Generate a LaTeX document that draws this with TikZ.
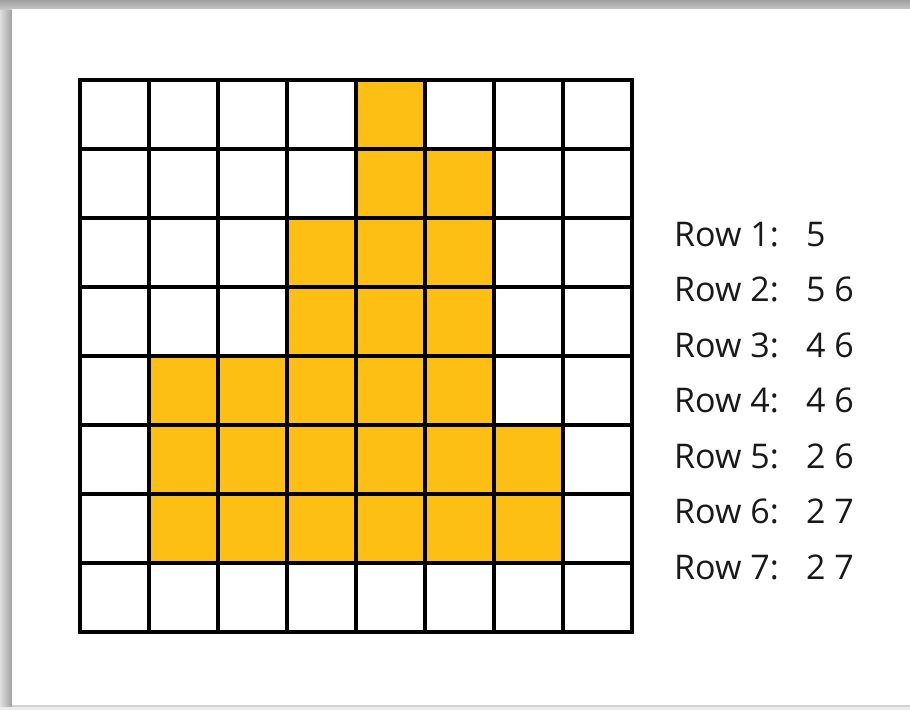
\documentclass[tikz,border=0pt]{standalone}
\usepackage{fontspec}
\setmainfont{Open Sans}
\usepackage{xcolor}
\usepackage{tikz}
\definecolor{pixelgold}{RGB}{253,191,20}
\tikzset{
  pixelcell/.style={fill=pixelgold},
  gridline/.style={draw=black, line width=3.2pt, line cap=rect},
  rowlabel/.style={anchor=base west, inner sep=0pt, font=\fontsize{34}{40}\selectfont, text=black!90},
  runlabel/.style={anchor=base west, inner sep=0pt, font=\fontsize{34}{40}\selectfont, text=black!90}
}
\begin{document}
\begin{tikzpicture}[x=1pt,y=-1pt]
\useasboundingbox (0,0) rectangle (910,710);
\fill[gray!35] (0,0) rectangle (910,710);
\shade[left color=gray!25, right color=gray!75] (0,0) rectangle (12,708);
\shade[top color=gray!75, bottom color=gray!45] (0,0) rectangle (910,9);
\fill[gray!15] (0,707) rectangle (910,710);
\fill[white] (12,9) rectangle (910,705);
\foreach \r/\a/\b in {0/4/4,1/4/5,2/3/5,3/3/5,4/1/5,5/1/6,6/1/6} {
  \fill[pixelcell] ({80+69*\a},{80+69*\r}) rectangle ({80+69*(\b+1)},{80+69*(\r+1)});
}
\foreach \i in {0,...,8} {
  \draw[gridline] ({80+69*\i},80) -- ({80+69*\i},632);
  \draw[gridline] (80,{80+69*\i}) -- (632,{80+69*\i});
}
\foreach \n/\v in {1/5,2/5 6,3/4 6,4/4 6,5/2 6,6/2 7,7/2 7} {
  \node[rowlabel] (row\n) at (674,{246+55.5*(\n-1)}) {Row \n:};
  \node[runlabel] (run\n) at (806,{246+55.5*(\n-1)}) {\v};
}
\end{tikzpicture}
\end{document}
